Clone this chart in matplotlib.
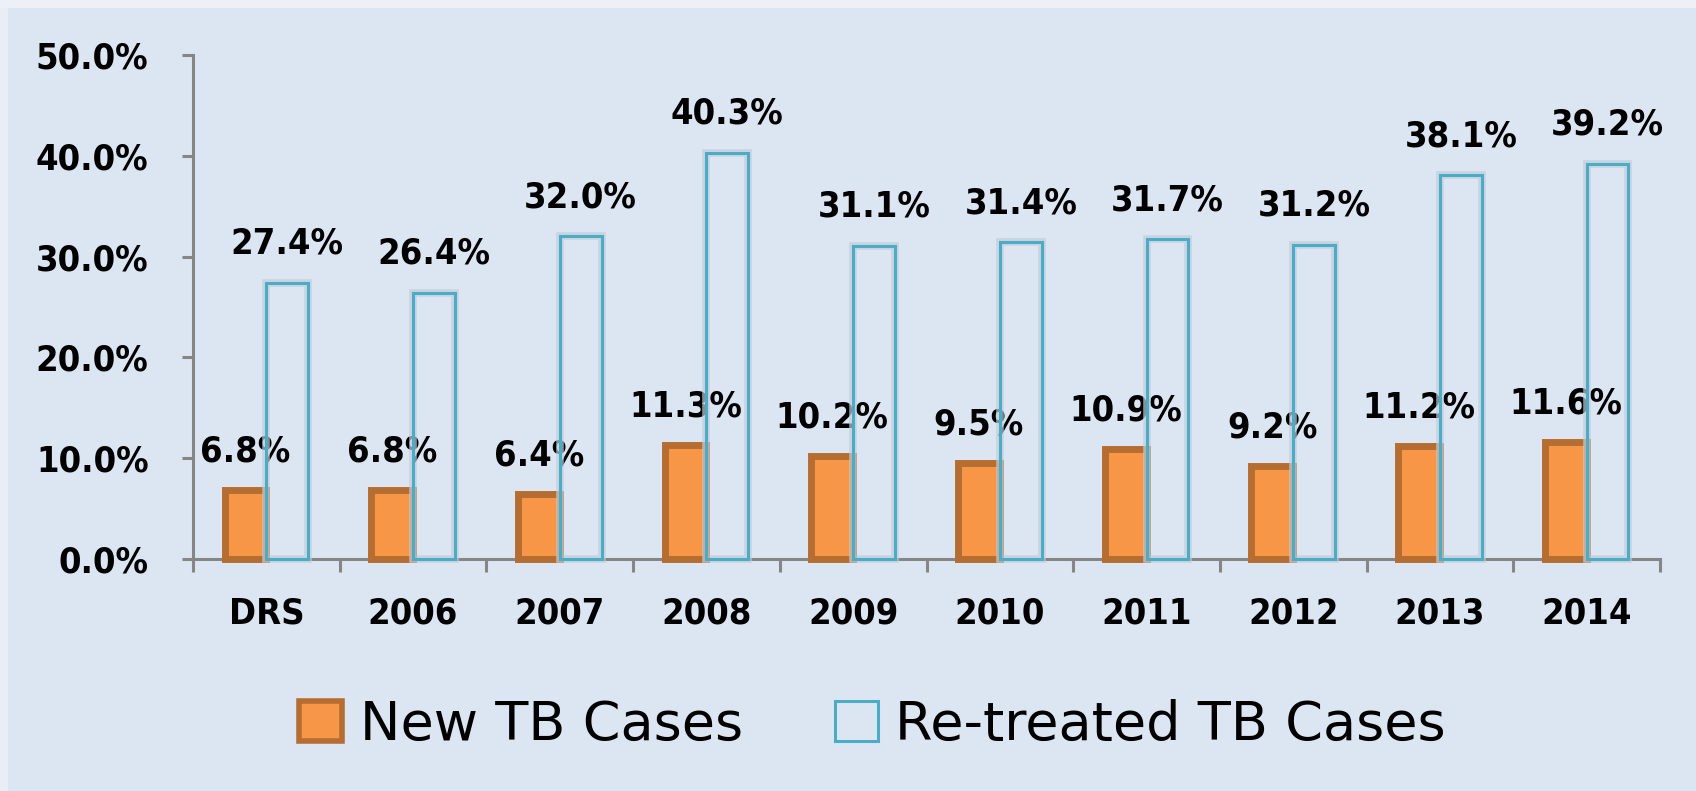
import os
import matplotlib as mpl
mpl.use('Agg')
import matplotlib.pyplot as plt
import numpy as np
from matplotlib import font_manager
from matplotlib.font_manager import FontProperties
from matplotlib.patches import Rectangle, Patch

categories = ['DRS', '2006', '2007', '2008', '2009', '2010', '2011', '2012', '2013', '2014']
new_cases = [6.8, 6.8, 6.4, 11.3, 10.2, 9.5, 10.9, 9.2, 11.2, 11.6]
retreated_cases = [27.4, 26.4, 32.0, 40.3, 31.1, 31.4, 31.7, 31.2, 38.1, 39.2]
y_ticks = [0, 10, 20, 30, 40, 50]

bg = '#DCE6F2'
orange = '#F79646'
orange_edge = '#B66D31'
blue = '#4BACC6'
axis_gray = '#868686'


def pick_font(files, size, weight):
    # prefer a condensed face, the original labels look squeezed sideways
    for name in files:
        for f in font_manager.fontManager.ttflist:
            if os.path.basename(f.fname).lower() == name.lower():
                return FontProperties(fname=f.fname, size=size)
    return FontProperties(family='DejaVu Sans', weight=weight, size=size)


lab_fp = pick_font(['DejaVuSansCondensed-Bold.ttf', 'LiberationSansNarrow-Bold.ttf'], 26, 'bold')
leg_fp = FontProperties(family='DejaVu Sans', size=39)

fig = plt.figure(figsize=(16.96, 7.91), dpi=100)
fig.patch.set_facecolor(bg)
# lighter strips at the top and left edge of the slide
fig.patches.append(Rectangle((0, 0), 8 / 1696, 1, transform=fig.transFigure,
                             facecolor='#E9EEF6', edgecolor='none', zorder=0))
fig.patches.append(Rectangle((0, 1 - 8 / 791), 1, 8 / 791, transform=fig.transFigure,
                             facecolor='#EDF1F7', edgecolor='none', zorder=0))

ax = fig.add_axes([193 / 1696, 1 - 559 / 791, (1660 - 193) / 1696, (559 - 55) / 791])
ax.set_facecolor('none')

x = np.arange(len(categories))
w = 0.285

ax.bar(x - w / 2, new_cases, w, color=orange, edgecolor=orange_edge, linewidth=5,
       zorder=3, clip_on=False)
# soft shadow then the outline-only bars
ax.bar(x + w / 2, retreated_cases, w, color='none', edgecolor='#C3CDD9', linewidth=5.5,
       alpha=0.7, zorder=3.5, clip_on=False)
ax.bar(x + w / 2, retreated_cases, w, color='none', edgecolor=blue, linewidth=2.2,
       zorder=4, clip_on=False)

for i in range(len(categories)):
    ax.annotate('%.1f%%' % new_cases[i], (x[i] - w / 2, new_cases[i]),
                xytext=(0, 28), textcoords='offset points', ha='center', va='center',
                fontproperties=lab_fp, color='black')
    ax.annotate('%.1f%%' % retreated_cases[i], (x[i] + w / 2, retreated_cases[i]),
                xytext=(0, 28), textcoords='offset points', ha='center', va='center',
                fontproperties=lab_fp, color='black')

ax.set_xlim(-0.5, len(categories) - 0.5)
ax.set_ylim(0, 50)

ax.set_yticks(y_ticks)
ax.set_yticklabels(['%.1f%%' % v for v in y_ticks], fontproperties=lab_fp)
ax.tick_params(axis='y', length=8, width=2.2, color=axis_gray, pad=24)

ax.set_xticks(x)
ax.set_xticklabels(categories, fontproperties=lab_fp)
ax.tick_params(axis='x', which='major', length=0, pad=27)
ax.set_xticks(np.arange(len(categories) + 1) - 0.5, minor=True)
ax.tick_params(axis='x', which='minor', length=9, width=2.2, color=axis_gray)

for s in ['top', 'right']:
    ax.spines[s].set_visible(False)
for s in ['left', 'bottom']:
    ax.spines[s].set_color(axis_gray)
    ax.spines[s].set_linewidth(2.2)
    ax.spines[s].set_zorder(2)

handles = [Patch(facecolor=orange, edgecolor=orange_edge, linewidth=4),
           Patch(facecolor='none', edgecolor=blue, linewidth=2.2)]
fig.legend(handles, ['New TB Cases', 'Re-treated TB Cases'], loc='center',
           bbox_to_anchor=(0.5144, 0.083), ncol=2, frameon=False, prop=leg_fp,
           handlelength=0.79, handleheight=0.76, handletextpad=0.33, columnspacing=1.7)

fig.savefig('out.png', dpi=100, facecolor=bg)
